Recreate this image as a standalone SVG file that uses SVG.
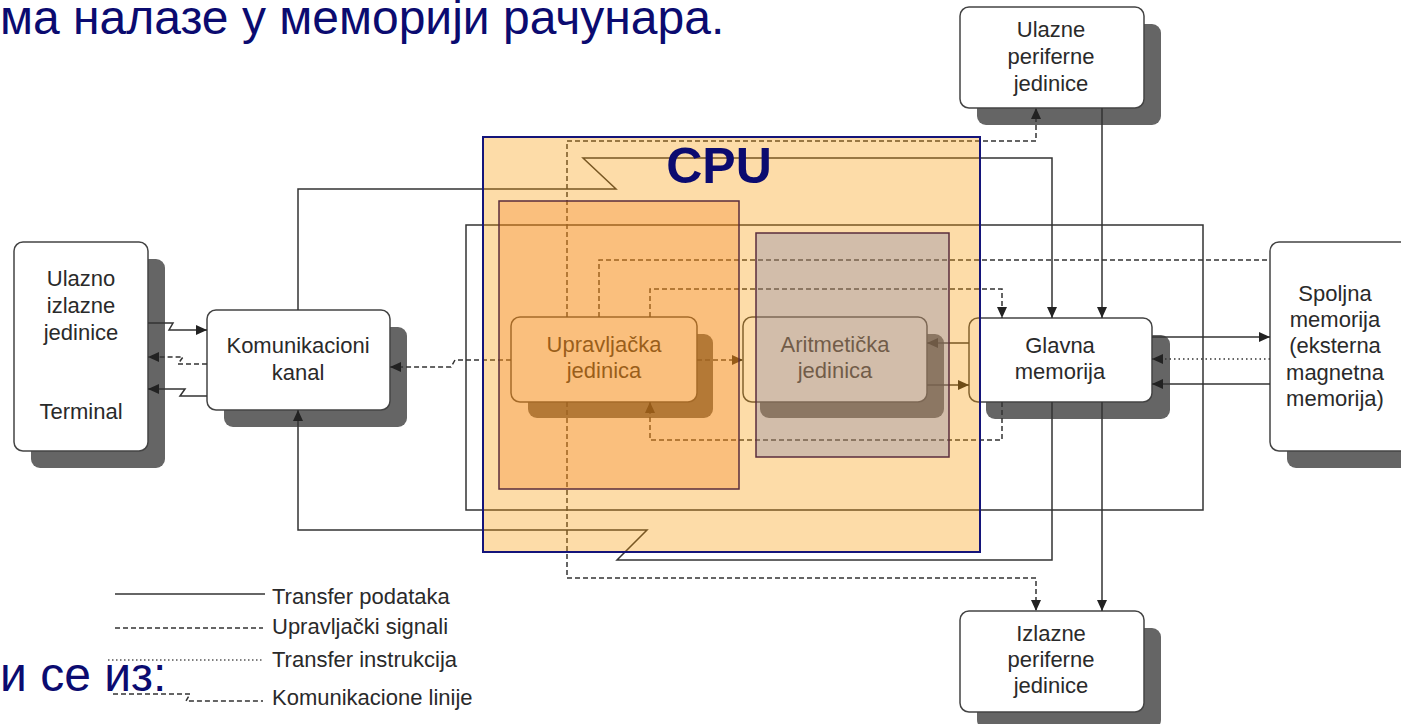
<svg xmlns="http://www.w3.org/2000/svg" width="1401" height="724" viewBox="0 0 1401 724">
<defs>
<marker id="ah" markerUnits="userSpaceOnUse" markerWidth="11" markerHeight="10" refX="11" refY="5" orient="auto"><path d="M0,0 L11,5 L0,10 z" fill="#222"/></marker>
<style>
.t{font-family:"Liberation Sans",Arial,sans-serif;font-size:22px;fill:#2a2a2a;text-anchor:middle}
.lg{font-family:"Liberation Sans",Arial,sans-serif;font-size:22px;fill:#2a2a2a}
.sh{fill:#656565}
.bx{fill:#fff;stroke:#444;stroke-width:1.5}
.ln{fill:none;stroke:#333;stroke-width:1.5}
.ds{stroke-dasharray:5 3}
.dt{stroke-dasharray:1.5 3}
.ttl{font-family:"Liberation Sans",Arial,sans-serif;font-size:48px;fill:#0b0b70}
</style>
</defs>
<rect width="1401" height="724" fill="#fff"/>
<text class="ttl" x="0" y="34">ма налазе у меморији рачунара.</text>
<text class="ttl" x="0" y="691">и се из:</text>

<g id="ulazno-izlazne">
<rect class="sh" x="31" y="259" width="134" height="209" rx="9"/>
<rect class="bx" x="14" y="242" width="134" height="209" rx="9"/>
<text class="t" x="81" y="286">Ulazno</text>
<text class="t" x="81" y="313">izlazne</text>
<text class="t" x="81" y="340">jedinice</text>
<text class="t" x="81" y="419">Terminal</text>
</g>
<g id="komunikacioni">
<rect class="sh" x="224" y="327" width="183" height="100" rx="9"/>
<rect class="bx" x="207" y="310" width="183" height="100" rx="9"/>
<text class="t" x="298" y="353">Komunikacioni</text>
<text class="t" x="298" y="380">kanal</text>
</g>
<g id="ulazne-periferne">
<rect class="sh" x="977" y="24" width="184" height="101" rx="9"/>
<rect class="bx" x="960" y="7" width="184" height="101" rx="9"/>
<text class="t" x="1051" y="37">Ulazne</text>
<text class="t" x="1051" y="64">periferne</text>
<text class="t" x="1051" y="91">jedinice</text>
</g>
<g id="izlazne-periferne">
<rect class="sh" x="977" y="628" width="184" height="101" rx="9"/>
<rect class="bx" x="960" y="611" width="184" height="101" rx="9"/>
<text class="t" x="1051" y="641">Izlazne</text>
<text class="t" x="1051" y="667">periferne</text>
<text class="t" x="1051" y="693">jedinice</text>
</g>
<g id="glavna-memorija">
<rect class="sh" x="986" y="335" width="184" height="84" rx="9"/>
<rect class="bx" x="969" y="318" width="183" height="84" rx="9"/>
<text class="t" x="1060" y="353">Glavna</text>
<text class="t" x="1060" y="379">memorija</text>
</g>
<g id="spoljna-memorija">
<rect class="sh" x="1287" y="259" width="140" height="209" rx="9"/>
<rect class="bx" x="1270" y="242" width="140" height="209" rx="9"/>
<text class="t" x="1335" y="301">Spoljna</text>
<text class="t" x="1335" y="327">memorija</text>
<text class="t" x="1335" y="353">(eksterna</text>
<text class="t" x="1335" y="380">magnetna</text>
<text class="t" x="1335" y="406">memorija)</text>
</g>
<g id="upravljacka">
<rect class="sh" x="528" y="334" width="185" height="84" rx="9"/>
<rect class="bx" x="511" y="317" width="186" height="85" rx="9"/>
<text class="t" x="604" y="352">Upravljačka</text>
<text class="t" x="604" y="378">jedinica</text>
</g>
<g id="aritmeticka">
<rect class="sh" x="760" y="334" width="184" height="84" rx="9"/>
<rect class="bx" x="743" y="317" width="184" height="85" rx="9"/>
<text class="t" x="835" y="352">Aritmetička</text>
<text class="t" x="835" y="378">jedinica</text>
</g>

<g id="connectors">
<path class="ln" d="M148,323 H173 L169,330 H207" marker-end="url(#ah)"/>
<path class="ln ds" d="M207,364 H178 L183,357 H148" marker-end="url(#ah)"/>
<path class="ln" d="M207,396 H180 L185,389 H148" marker-end="url(#ah)"/>
<path class="ln ds" d="M511,360 H455 L451,367 H390" marker-end="url(#ah)"/>
<path class="ln" d="M298,310 V189 H616 L583,158 H1052 V318" marker-end="url(#ah)"/>
<path class="ln" d="M1052,402 V560 H617 L647,530 H298 V410" marker-end="url(#ah)"/>
<path class="ln" d="M466,225 H1203 V510 H466 Z"/>
<path class="ln" d="M1102,108 V318" marker-end="url(#ah)"/>
<path class="ln" d="M1102,402 V611" marker-end="url(#ah)"/>
<path class="ln ds" d="M567,317 V141 H1036 V108" marker-end="url(#ah)"/>
<path class="ln ds" d="M567,402 V578 H1036 V611" marker-end="url(#ah)"/>
<path class="ln ds" d="M599,317 V260 H1270"/>
<path class="ln ds" d="M650,317 V289 H1002 V318" marker-end="url(#ah)"/>
<path class="ln ds" d="M1002,402 V440 H650 V402" marker-end="url(#ah)"/>
<path class="ln ds" d="M697,360 H743" marker-end="url(#ah)"/>
<path class="ln" d="M969,343 H927" marker-end="url(#ah)"/>
<path class="ln" d="M927,385 H969" marker-end="url(#ah)"/>
<path class="ln" d="M1152,337 H1270" marker-end="url(#ah)"/>
<path class="ln dt" d="M1270,359 H1152" marker-end="url(#ah)"/>
<path class="ln" d="M1270,384 H1152" marker-end="url(#ah)"/>
</g>

<g id="cpu">
<rect x="483" y="137" width="497" height="415" fill="#f99b05" fill-opacity="0.35" stroke="#14147a" stroke-width="2"/>
<rect x="499" y="201" width="240" height="288" fill="#f67f19" fill-opacity="0.3" stroke="#5a2d3c" stroke-width="1.5"/>
<rect x="756" y="233" width="193" height="224" fill="#7178af" fill-opacity="0.3" stroke="#5a2d3c" stroke-width="1.5"/>
<text x="719" y="183" font-family="Liberation Sans, Arial, sans-serif" font-size="50" font-weight="bold" fill="#0b0b70" text-anchor="middle">CPU</text>
</g>

<g id="legend">
<path class="ln" d="M115,594 H265"/>
<text class="lg" x="272" y="604">Transfer podataka</text>
<path class="ln ds" d="M115,628 H263"/>
<text class="lg" x="272" y="634">Upravljački signali</text>
<path class="ln" style="stroke-dasharray:1.5 2.5;stroke-width:1.3;stroke:#555" d="M108,660 H263"/>
<text class="lg" x="272" y="667">Transfer instrukcija</text>
<path class="ln ds" d="M113,694 H190 L186,701 H263"/>
<text class="lg" x="272" y="705">Komunikacione linije</text>
</g>
</svg>
